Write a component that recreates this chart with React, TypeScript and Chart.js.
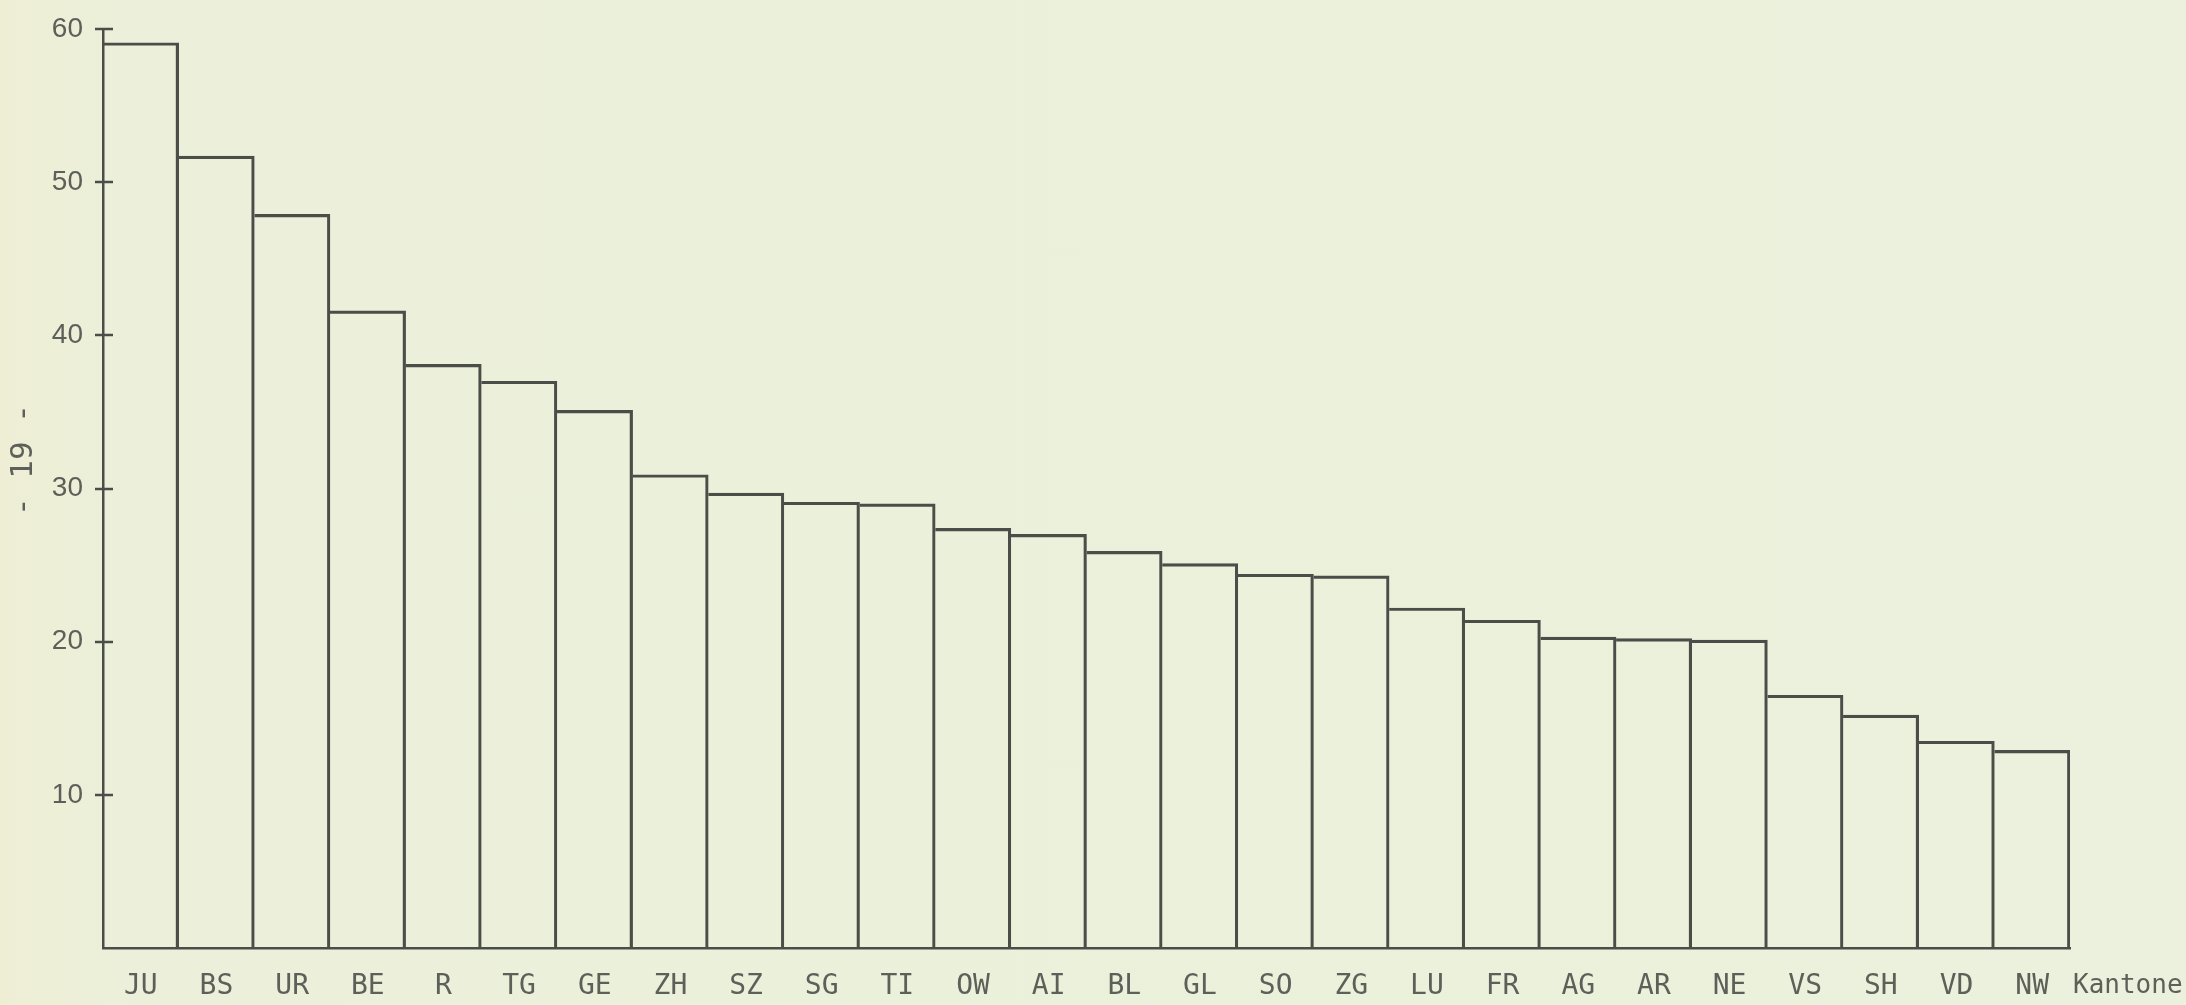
import React, { useEffect, useRef } from 'react';
import { Chart, registerables } from 'chart.js';

Chart.register(...registerables);

// ---- data ----
const cantons = ['JU', 'BS', 'UR', 'BE', 'R', 'TG', 'GE', 'ZH', 'SZ', 'SG', 'TI', 'OW', 'AI', 'BL', 'GL', 'SO', 'ZG', 'LU', 'FR', 'AG', 'AR', 'NE', 'VS', 'SH', 'VD', 'NW'];
const shares = [59.1, 51.7, 47.9, 41.6, 38.1, 37.0, 35.1, 30.9, 29.7, 29.1, 29.0, 27.4, 27.0, 25.9, 25.1, 24.4, 24.3, 22.2, 21.4, 20.3, 20.2, 20.1, 16.5, 15.2, 13.5, 12.9];
const yTickValues = [10, 20, 30, 40, 50, 60];
const xAxisTitle = 'Kantone';
const pageNumber = '- 19 -';

const lineColor = '#4b4d48';
const textColor = '#5d5f59';
const monoFont = '"DejaVu Sans Mono", monospace';
const sansFont = '"Liberation Sans", Arial, sans-serif';

const extrasPlugin = {
  id: 'extras',
  afterDraw(chart: any) {
    const ctx = chart.ctx;
    const yScale = chart.scales.y;
    const area = chart.chartArea;
    ctx.save();
    ctx.strokeStyle = lineColor;
    ctx.lineWidth = 2.5;
    yTickValues.forEach((v) => {
      const py = Math.round(yScale.getPixelForValue(v));
      ctx.beginPath();
      ctx.moveTo(area.left - 8, py);
      ctx.lineTo(area.left + 10, py);
      ctx.stroke();
    });
    ctx.fillStyle = textColor;
    ctx.font = '26px ' + monoFont;
    ctx.textAlign = 'left';
    ctx.textBaseline = 'middle';
    ctx.fillText(xAxisTitle, area.right + 3, area.bottom + 38);
    ctx.font = '31px ' + monoFont;
    ctx.translate(24, 460);
    ctx.rotate(-Math.PI / 2);
    ctx.textAlign = 'center';
    ctx.fillText(pageNumber, 0, 0);
    ctx.restore();
  },
};

export default function App() {
  const canvasRef = useRef<HTMLCanvasElement | null>(null);

  useEffect(() => {
    if (!canvasRef.current) return;
    const chart = new Chart(canvasRef.current, {
      type: 'bar',
      data: {
        labels: cantons,
        datasets: [
          {
            data: shares,
            backgroundColor: 'rgba(0,0,0,0)',
            borderColor: lineColor,
            borderWidth: { top: 2.5, right: 2.5, left: 0, bottom: 0 },
            borderSkipped: false,
            barPercentage: 1,
            categoryPercentage: 1,
          },
        ],
      },
      options: {
        animation: false,
        responsive: false,
        devicePixelRatio: 1,
        layout: { padding: { top: 29, right: 116, bottom: 0, left: 0 } },
        plugins: {
          legend: { display: false },
          tooltip: { enabled: false },
        },
        scales: {
          x: {
            type: 'category',
            grid: { display: false, drawTicks: false },
            border: { display: true, color: lineColor, width: 2.5 },
            ticks: {
              color: textColor,
              font: { family: monoFont, size: 28 },
              padding: 22,
              maxRotation: 0,
              autoSkip: false,
            },
            afterFit: (scale: any) => {
              scale.height = 57;
            },
          },
          y: {
            min: 0,
            max: 60,
            grid: { display: false, drawTicks: true, tickLength: 20 },
            border: { display: true, color: lineColor, width: 2.5 },
            ticks: {
              stepSize: 10,
              color: textColor,
              font: { family: sansFont, size: 28 },
              padding: 0,
            },
            afterBuildTicks: (scale: any) => {
              scale.ticks = scale.ticks.filter((t: any) => t.value !== 0);
            },
            afterFit: (scale: any) => {
              scale.width = 103;
            },
          },
        },
      },
      plugins: [extrasPlugin],
    });
    return () => chart.destroy();
  }, []);

  return (
    <div
      style={{
        position: 'absolute',
        left: 0,
        top: 0,
        width: 2186,
        height: 1005,
        background: 'linear-gradient(to right, #eeeed5 0%, #ecf0da 6%, #ebf1dc 100%)',
      }}
    >
      <canvas ref={canvasRef} width={2186} height={1005} style={{ display: 'block' }} />
    </div>
  );
}
